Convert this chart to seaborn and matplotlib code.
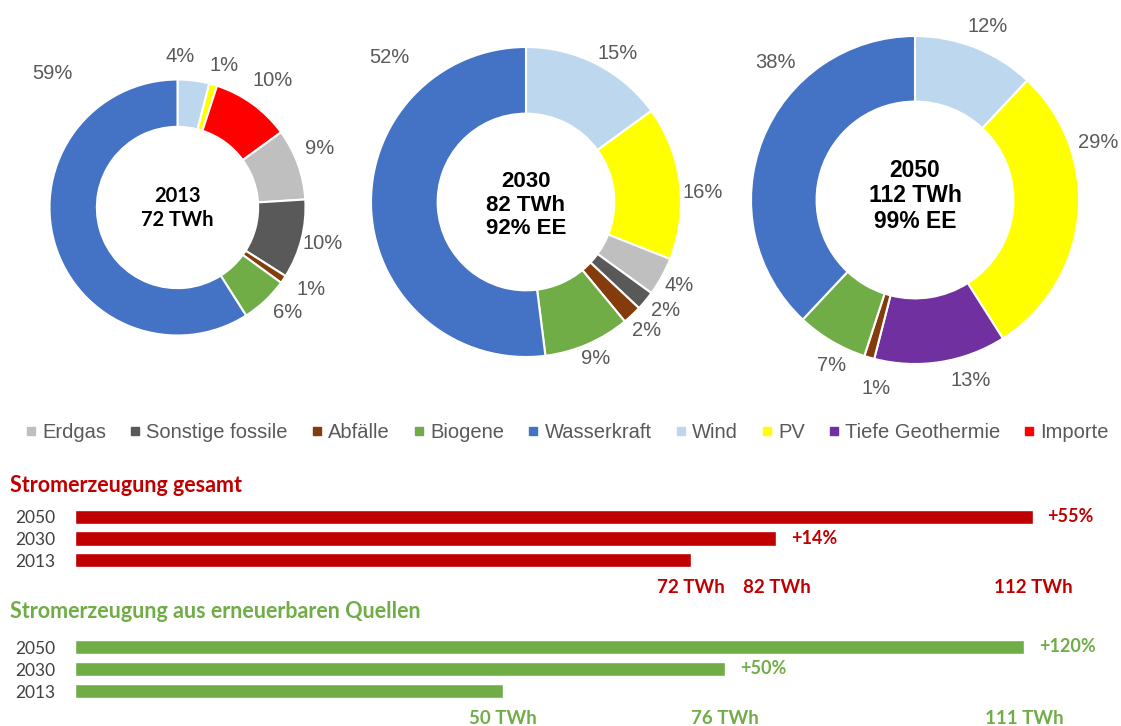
import matplotlib
matplotlib.use("Agg")
import matplotlib.pyplot as plt
from matplotlib.lines import Line2D
import seaborn as sns
import pandas as pd

# ---------------- data ----------------
CATEGORIES = ["Erdgas", "Sonstige fossile", "Abfälle", "Biogene", "Wasserkraft",
              "Wind", "PV", "Tiefe Geothermie", "Importe"]
SHARE_2013 = [9, 10, 1, 6, 59, 4, 1, 0, 10]
SHARE_2030 = [4, 2, 2, 9, 52, 15, 16, 0, 0]
SHARE_2050 = [0, 0, 1, 7, 38, 12, 29, 13, 0]
PIE_YEARS = ["2013", "2030", "2050"]
CENTER_TEXT = {"2013": "2013\n72 TWh",
               "2030": "2030\n82 TWh\n92% EE",
               "2050": "2050\n112 TWh\n99% EE"}

BAR_YEARS = ["2050", "2030", "2013"]
TOTAL_TWH = [112, 82, 72]
TOTAL_GROWTH = ["+55%", "+14%", ""]
RENEW_TWH = [111, 76, 50]
RENEW_GROWTH = ["+120%", "+50%", ""]

# ---------------- styles ----------------
COLORS = {"Erdgas": "#BFBFBF", "Sonstige fossile": "#595959", "Abfälle": "#843C0C",
          "Biogene": "#70AD47", "Wasserkraft": "#4472C4", "Wind": "#BDD7EE",
          "PV": "#FFFF00", "Tiefe Geothermie": "#7030A0", "Importe": "#FF0000"}
# drawing order clockwise from 12 o'clock
PIE_ORDER = ["Wind", "PV", "Tiefe Geothermie", "Importe", "Erdgas",
             "Sonstige fossile", "Abfälle", "Biogene", "Wasserkraft"]
RED = "#C00000"
GREEN = "#70AD47"
LABEL_GRAY = "#595959"

W, H = 1121, 726
PIE_LAYOUT = {
    "2013": dict(cx=177.5, cy=207.5, r=128, width=0.37, family="Lato", size=14.5,
                 dy=0.0, ls=1.25),
    "2030": dict(cx=526, cy=202, r=155, width=0.43, family="Liberation Sans", size=16,
                 dy=-0.02, ls=1.15),
    "2050": dict(cx=915, cy=200, r=164, width=0.40, family="Liberation Sans", size=16.5,
                 dy=0.025, ls=1.15),
}
LABEL_POS = {
    "2013": {"Wasserkraft": (-0.98, 1.05), "Wind": (0.02, 1.18), "PV": (0.36, 1.11),
             "Importe": (0.74, 0.99), "Erdgas": (1.11, 0.46), "Sonstige fossile": (1.13, -0.28),
             "Abfälle": (1.04, -0.64), "Biogene": (0.86, -0.82)},
    "2030": {"Wasserkraft": (-0.88, 0.93), "Wind": (0.59, 0.96), "PV": (1.14, 0.06),
             "Erdgas": (0.99, -0.54), "Sonstige fossile": (0.90, -0.70),
             "Abfälle": (0.78, -0.83), "Biogene": (0.45, -1.01)},
    "2050": {"Wasserkraft": (-0.85, 0.84), "Wind": (0.44, 1.06), "PV": (1.12, 0.35),
             "Tiefe Geothermie": (0.34, -1.10), "Abfälle": (-0.24, -1.15),
             "Biogene": (-0.51, -1.01)},
}

sns.set_theme(style="white")
plt.rcParams["font.family"] = ["Liberation Sans", "DejaVu Sans"]

fig = plt.figure(figsize=(W / 100, H / 100), dpi=100)
fig.patch.set_facecolor("white")

shares = {"2013": dict(zip(CATEGORIES, SHARE_2013)),
          "2030": dict(zip(CATEGORIES, SHARE_2030)),
          "2050": dict(zip(CATEGORIES, SHARE_2050))}

for year in PIE_YEARS:
    L = PIE_LAYOUT[year]
    r = L["r"]
    ax = fig.add_axes([(L["cx"] - r) / W, 1 - (L["cy"] + r) / H, 2 * r / W, 2 * r / H])
    cats = [c for c in PIE_ORDER if shares[year][c] > 0]
    vals = [shares[year][c] for c in cats]
    ax.pie(vals, colors=[COLORS[c] for c in cats], startangle=90, counterclock=False,
           radius=1, wedgeprops=dict(width=L["width"], edgecolor="white", linewidth=1.5))
    ax.set_xlim(-1, 1)
    ax.set_ylim(-1, 1)
    ax.set_axis_off()
    for c, v in zip(cats, vals):
        x, y = LABEL_POS[year][c]
        ax.text(x, y, f"{v}%", ha="center", va="center", fontsize=14.5, color=LABEL_GRAY)
    ax.text(0, L["dy"], CENTER_TEXT[year], ha="center", va="center", fontsize=L["size"],
            fontweight="bold", color="black", family=L["family"], linespacing=L["ls"])

# legend
handles = [Line2D([], [], marker="s", ls="none", markersize=6,
                  markerfacecolor=COLORS[c], markeredgecolor=COLORS[c]) for c in CATEGORIES]
fig.legend(handles, CATEGORIES, loc="center", bbox_to_anchor=(566 / W, 1 - 433 / H),
           ncol=9, frameon=False, handletextpad=0.15, columnspacing=1.05, handlelength=0.8,
           fontsize=14.5, labelcolor=LABEL_GRAY)


def bar_section(top_px, bottom_px, values, growth, color, title, title_y):
    ax = fig.add_axes([75 / W, 1 - bottom_px / H, 958 / W, (bottom_px - top_px) / H])
    df = pd.DataFrame({"Jahr": BAR_YEARS, "TWh": values})
    sns.barplot(data=df, x="TWh", y="Jahr", order=BAR_YEARS, color=color, saturation=1,
                width=0.66, ax=ax)
    ax.set_facecolor("none")
    ax.set_xlim(0, 112)
    ax.set_ylim(2.5, -0.5)
    ax.set_xlabel("")
    ax.set_ylabel("")
    ax.set_xticks(values, [f"{v} TWh" for v in values])
    sns.despine(ax=ax, left=True, bottom=True)
    ax.tick_params(length=0)
    ax.tick_params(axis="x", pad=6)
    ax.tick_params(axis="y", pad=14)
    for lab in ax.get_xticklabels():
        lab.set_fontfamily("Lato")
        lab.set_fontweight("bold")
        lab.set_fontsize(13.5)
        lab.set_color(color)
    for lab in ax.get_yticklabels():
        lab.set_fontfamily("Lato")
        lab.set_fontsize(12.5)
        lab.set_color("#404040")
    ax.bar_label(ax.containers[0], labels=growth, padding=10.5, color=color,
                 fontweight="bold", fontsize=13, family="Lato")
    fig.text(10 / W, 1 - title_y / H, title, ha="left", va="center", color=color,
             fontweight="bold", fontsize=15.5, family="Lato")
    return ax


bar_section(506, 571, TOTAL_TWH, TOTAL_GROWTH, RED, "Stromerzeugung gesamt", 485)
bar_section(636, 702, RENEW_TWH, RENEW_GROWTH, GREEN,
            "Stromerzeugung aus erneuerbaren Quellen", 612)

fig.savefig("out.png", dpi=100, facecolor="white")
